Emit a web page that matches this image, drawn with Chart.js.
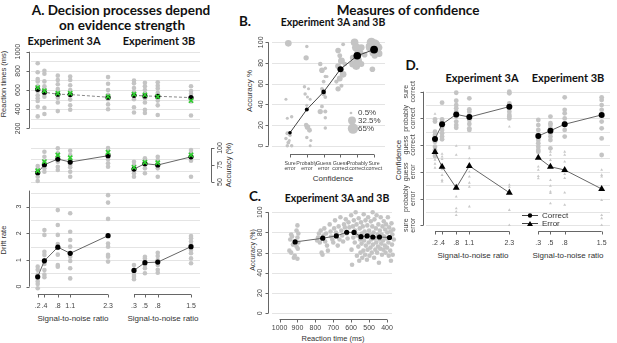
<!DOCTYPE html>
<html>
<head>
<meta charset="utf-8">
<script src="https://cdn.jsdelivr.net/npm/chart.js@4.4.0/dist/chart.umd.min.js"></script>
<style>
  body { margin: 0; background: #fff; }
  #fig { position: relative; width: 617px; height: 343px; overflow: hidden; font-family: "Liberation Sans", Arial, sans-serif; }
  #fig canvas { position: absolute; left: 0; top: 0; }
  .t { position: absolute; white-space: nowrap; transform: translate(-50%, -50%); line-height: 1; color: #333; }
  .h { font-family: Lato, "Open Sans", sans-serif; font-weight: bold; color: #111; }
  .r { transform: translate(-50%, -50%) rotate(-90deg); }
</style>
</head>
<body>
<div id="fig">
  <div class="t h" style="left:121px;top:11px;font-size:13.5px">A. Decision processes depend</div>
  <div class="t h" style="left:122px;top:26px;font-size:13.5px">on evidence strength</div>
  <div class="t h" style="left:64px;top:40px;font-size:11px">Experiment 3A</div>
  <div class="t h" style="left:159px;top:40px;font-size:11px">Experiment 3B</div>
  <div class="t r" style="left:4px;top:84px;font-size:7.5px">Reaction times (ms)</div>
  <div class="t r" style="left:229px;top:165px;font-size:7.5px">Accuracy (%)</div>
  <div class="t r" style="left:4px;top:240px;font-size:7.5px">Drift rate</div>
  <div class="t" style="left:73px;top:319px;font-size:8px">Signal-to-noise ratio</div>
  <div class="t" style="left:163px;top:319px;font-size:8px">Signal-to-noise ratio</div>

  <div class="t h" style="left:408px;top:11px;font-size:13.5px">Measures of confidence</div>
  <div class="t h" style="left:245px;top:22px;font-size:13.5px">B.</div>
  <div class="t h" style="left:333px;top:22px;font-size:10.5px">Experiment 3A and 3B</div>
  <div class="t r" style="left:250px;top:91px;font-size:8px">Accuracy %</div>
  <div class="t" style="left:333px;top:179px;font-size:8px">Confidence</div>

  <div class="t h" style="left:255px;top:197px;font-size:13.5px">C.</div>
  <div class="t h" style="left:337px;top:198px;font-size:10.5px">Experiment 3A and 3B</div>
  <div class="t r" style="left:252px;top:250px;font-size:7px">Accuracy (%)</div>
  <div class="t" style="left:333px;top:339px;font-size:7.5px">Reaction time (ms)</div>

  <div class="t h" style="left:412px;top:66px;font-size:13.5px">D.</div>
  <div class="t h" style="left:482px;top:77px;font-size:11px">Experiment 3A</div>
  <div class="t h" style="left:568px;top:77px;font-size:11px">Experiment 3B</div>
  <div class="t r" style="left:399px;top:160px;font-size:8px">Confidence</div>
  <div class="t" style="left:473px;top:256px;font-size:8px">Signal-to-noise ratio</div>
  <div class="t" style="left:568px;top:256px;font-size:8px">Signal-to-noise ratio</div>
</div>
<script>
const W = 617, H = 343;

// signal-to-noise levels (x positions) and their printed labels
const snr3A = [0.2, 0.4, 0.8, 1.17, 2.3];
const snrLabels3A = [".2", ".4", ".8", "1.1", "2.3"];
const snr3B = [0.3, 0.53, 0.8, 1.5];
const snrLabels3B = [".3", ".5", ".8", "1.5"];

// A. reaction times
const rtMean3A = [607, 577, 556, 553, 525];
const rtFit3A = [625, 593, 566, 566, 531];
const rtMean3B = [545, 538, 535, 521];
const rtFit3B = [556, 549, 531, 489];
const rtSubj3A = [
  [880, 785, 715, 690, 640, 590, 545, 515, 485, 425, 325],
  [800, 770, 690, 640, 610, 560, 530, 415, 350],
  [750, 705, 660, 610, 560, 520, 470, 380],
  [740, 705, 650, 600, 560, 500, 440, 395],
  [735, 665, 600, 550, 505, 450, 400]
];
const rtSubj3B = [
  [700, 670, 620, 580, 540, 505, 420, 365],
  [675, 640, 600, 560, 515, 470, 395, 360],
  [680, 645, 615, 570, 530, 490, 440, 340],
  [640, 590, 560, 505, 480, 335]
];

// A. accuracy
const accMean3A = [63.7, 75.4, 83.8, 79.4, 88.7];
const accFit3A = [66.6, 80, 89.7, 85.7, 93.7];
const accMean3B = [69, 77, 75, 87];
const accFit3B = [71.6, 79, 78.4, 89.7];
const accSubj3A = [
  [73.5, 69, 62.8, 57.8, 51.5],
  [94.6, 87.2, 79.9, 75, 70.1, 65.1],
  [99.5, 92.2, 87.2, 79.9, 72.5, 67.6],
  [96, 89.7, 82.4, 75, 71.6, 65.1, 57.8],
  [100, 96, 83.4, 77.5, 72.5]
];
const accSubj3B = [
  [79.9, 75, 68.6, 62.8, 57.8],
  [84.8, 81.4, 77.5, 70.1, 62.8],
  [87.2, 82.4, 77.5, 70.1, 57.8],
  [97, 93.1, 87.2, 81.4, 57.8]
];

// A. drift rate
const driftMean3A = [0.37, 0.97, 1.48, 1.25, 1.91];
const driftMean3B = [0.61, 0.9, 0.92, 1.5];
const driftSubj3A = [
  [0.75, 0.63, 0.45, 0.3, 0.19, 0.1, -0.06],
  [2.12, 1.94, 1.31, 1.19, 1.0, 0.85, 0.62, 0.45, 0.35],
  [2.87, 2.31, 1.94, 1.6, 1.45, 1.2, 0.81, 0.75],
  [2.75, 2.06, 1.75, 1.5, 1.12, 0.96, 0.69, 0.31],
  [3.43, 3.15, 2.54, 1.62, 1.5, 1.19, 1.12, 0.94]
];
const driftSubj3B = [
  [0.81, 0.63, 0.44, 0.37, 0.28],
  [1.12, 1.06, 0.94, 0.81, 0.69, 0.5],
  [1.27, 1.15, 1.0, 0.81, 0.63, 0.52],
  [1.9, 1.81, 1.69, 1.56, 1.37, 1.25, 1.06, 0.88]
];

// B. accuracy per confidence level
const confTop = ["Sure", "Probably", "Guess", "Guess", "Probably", "Sure"];
const confBottom = ["error", "error", "error", "correct", "correct", "correct"];
const confMeanAcc = [12.5, 35, 52, 74, 87, 93];
const confSubjPos = [0.9, 0.76, 0.84, 1.1, 0.84, 1.0, 0.76, 0.96, 0.84, 1.1, 0.9,
  2.0, 1.96, 1.86, 2.1, 1.9, 2.04, 2.2, 2.0, 2.04, 2.16, 1.96, 2.0, 2.24, 2.2,
  2.8, 2.9, 3.1, 3.1, 3.0, 3.2, 2.9, 3.1, 2.8, 3.1, 3.1, 3.1, 2.9, 3.0,
  4.16, 3.86, 3.96, 4.06, 4.26, 3.86, 4.06, 4.16, 3.96, 4.06, 3.86, 3.76,
  4.84, 4.94, 5.1, 4.74, 5.04, 4.94, 4.74, 5.24, 5.44, 5.24,
  5.84, 6.04, 6.24, 5.74, 6.14, 5.94, 6.04, 5.9, 5.7, 6.3];
const confSubjAcc = [99, 45, 26.5, 28, 12, 10, 7, 5, 0, 0, 3,
  96, 85, 57, 55, 50, 47, 45, 39, 18, 15, 20, 8, 5, 0,
  79, 73, 75, 67, 62, 67, 55, 47, 33, 33, 27, 17, 38, 50,
  98, 92, 87, 82, 79, 77, 74, 69, 65, 58, 55, 62,
  100, 95, 90, 85, 82, 77, 79, 79, 88, 95,
  100, 98, 95, 95, 93, 90, 87, 74, 96, 89];
const confSubjWeight = [20, 1, 1, 2, 3, 2, 2, 1, 2, 2, 3,
  2, 10, 2, 1, 2, 1, 1, 1, 12, 8, 6, 2, 1, 1,
  6, 12, 2, 2, 3, 1, 3, 3, 10, 4, 2, 2, 3, 6,
  3, 12, 8, 22, 6, 14, 10, 20, 14, 4, 10, 5,
  30, 40, 45, 15, 35, 30, 25, 15, 12, 20,
  50, 65, 40, 30, 50, 25, 15, 12, 20, 20];
const weightLegend = [0.5, 32.5, 65];

// C. accuracy by reaction-time bin
const rtBins = [913, 759, 683, 625, 584, 545, 511, 479, 442, 386];
const accBins = [70.6, 74.3, 76.6, 80.2, 80, 75.8, 76.6, 75.5, 75.5, 75];
const rtCloud = [935, 930, 940, 925, 945, 935, 920, 900, 905, 895, 900, 895, 905, 898, 900, 915,
  790, 785, 780, 775, 770, 765, 760, 755, 750, 745, 740, 735, 730, 720, 715, 712, 705, 700, 695, 690,
  685, 680, 675, 670, 665, 660, 655, 650, 645, 640, 635, 630, 625, 620, 615, 610,
  600, 598, 595, 590, 588, 585, 580, 578, 575, 570, 568, 565, 560, 558, 555, 552, 550, 548, 545, 542,
  540, 538, 535, 532, 530, 528, 525, 522, 520, 518, 515, 512, 510, 508, 505, 502, 500, 498, 495, 492,
  490, 488, 485, 482, 480, 478, 475, 472, 470, 468, 465, 462, 460, 458, 455, 452, 450, 448, 445, 442,
  440, 438, 435, 432, 430, 428, 425, 422, 420, 418, 415, 412, 410, 408, 405, 402, 400, 398, 395, 392,
  390, 388, 385, 382, 380, 378, 375, 372, 370, 368, 365, 362];
const accCloud = [78, 76, 73, 68, 62, 60, 55, 87, 82, 79, 75, 70, 66, 64, 54, 57,
  72, 75, 79, 70, 82, 60, 58, 77, 84, 71, 79, 67, 62, 88, 81, 76, 73, 70, 84, 92,
  80, 78, 67, 86, 73, 95, 82, 77, 71, 88, 85, 93, 79, 74, 90, 85,
  97, 63, 48, 86, 75, 92, 70, 82, 100, 88, 57, 77, 66, 94, 52, 84, 73, 60, 90, 69,
  79, 55, 86, 62, 98, 72, 81, 58, 92, 67, 76, 53, 87, 63, 95, 70, 82, 57, 78, 65,
  91, 73, 60, 86, 100, 68, 80, 55, 93, 74, 63, 84, 70, 97, 60, 78, 66, 88, 50, 73,
  82, 64, 95, 69, 78, 58, 86, 72, 63, 91, 76, 67, 83, 60, 88, 74, 65, 80, 95, 70,
  57, 85, 75, 62, 81, 52, 89, 68, 78, 58, 83, 73];

// D. confidence (1 = sure error ... 6 = sure correct)
const confLabels = [["sure", "error"], ["probably", "error"], ["guess", "error"],
  ["guess", "correct"], ["probably", "correct"], ["sure", "correct"]];
const confCorrect3A = [4.23, 4.78, 5.15, 5.05, 5.44];
const confError3A = [3.74, 3.19, 2.40, 3.22, 2.22];
const confCorrect3B = [4.34, 4.54, 4.78, 5.13];
const confError3B = [3.53, 3.19, 3.07, 2.36];
const corrSubj3A = [
  [4.96, 4.88, 4.5, 4.38, 4.13, 3.94, 3.82, 3.69, 3.59],
  [5.59, 4.96, 4.88, 4.75, 4.69, 4.57, 4.44, 4.32, 4.22],
  [5.96, 5.66, 5.5, 5.38, 5.25, 5.07, 4.88, 4.75, 4.65],
  [5.75, 5.34, 5.25, 5.09, 4.94, 4.79, 4.63, 4.57],
  [6.0, 5.94, 5.56, 5.38, 5.25, 5.13, 5.07, 5.0]
];
const corrSubj3B = [
  [4.94, 4.75, 4.57, 4.38, 4.19, 4.07, 3.94, 3.82, 3.75],
  [5.07, 4.82, 4.75, 4.63, 4.44, 4.32, 4.19, 3.88],
  [5.79, 5.32, 5.19, 5.0, 4.82, 4.57, 4.32],
  [5.79, 5.69, 5.5, 5.32, 4.88, 4.63, 4.25, 3.63]
];
const errSubj3A = [
  [5.17, 3.6, 3.45, 3.3, 3.15],
  [3.67, 3.57, 3.47, 3.09, 2.88, 2.69, 2.63],
  [3.97, 3.63, 2.07, 1.63, 1.51, 1.38],
  [3.94, 3.88, 3.5, 3.0, 2.82, 2.59, 2.44, 1.7],
  [4.69, 2.51, 2.44, 2.32, 1.57, 1.0]
];
const errSubj3B = [
  [4.13, 4.0, 3.19, 3.07, 2.84, 2.75],
  [3.75, 3.63, 3.44, 2.69, 2.47, 2.26, 2.2, 1.82],
  [3.75, 3.63, 3.38, 3.07, 2.91, 2.76, 2.22, 1.76],
  [3.07, 2.88, 2.82, 1.94, 1.38, 1.26, 1.0]
];

// ---------- helpers ----------
const pts = (xs, ys) => xs.map((x, i) => ({ x, y: ys[i] }));
const cols = (xs, rows) => xs.flatMap((x, i) => rows[i].map(y => ({ x, y })));
const weightRadius = w => 1 + 0.52 * Math.sqrt(w);

const GREY = "#c4c4c4";
const greyPts = (data, r, style) => ({
  data, showLine: false, clip: false, pointStyle: style || "circle", pointRadius: r || 2.3,
  pointBackgroundColor: GREY, pointBorderColor: GREY, pointBorderWidth: 0
});
const meanPts = (data, r, style) => ({
  data, showLine: true, clip: false, borderColor: "#666", borderWidth: 1,
  pointStyle: style || "circle", pointRadius: r || 2.6,
  pointBackgroundColor: "#000", pointBorderColor: "#000", pointBorderWidth: 0
});
const fitPts = data => ({
  data, showLine: false, clip: false, pointStyle: "crossRot", pointRadius: 3,
  pointBorderColor: "#2fcf2f", pointBorderWidth: 1.6
});

// R-style axis: line from first to last tick, ticks outward, labels rotated on y
function drawAxis(chart, ax) {
  const s = chart.scales[ax.scale], ctx = chart.ctx;
  const p = v => s.getPixelForValue(v);
  const lo = ax.from !== undefined ? ax.from : ax.ticks[0];
  const hi = ax.to !== undefined ? ax.to : ax.ticks[ax.ticks.length - 1];
  const lh = ax.lh || 7;
  ctx.save();
  ctx.strokeStyle = "#666";
  ctx.lineWidth = 1;
  ctx.fillStyle = "#444";
  ctx.font = (ax.size || 7) + 'px "Liberation Sans", Arial, sans-serif';
  ctx.textAlign = "center";
  ctx.textBaseline = "middle";
  ctx.beginPath();
  if (ax.side === "bottom") {
    const y = Math.round(ax.at) + 0.5;
    ctx.moveTo(p(lo), y); ctx.lineTo(p(hi), y);
    ax.ticks.forEach(v => { const x = Math.round(p(v)) + 0.5; ctx.moveTo(x, y); ctx.lineTo(x, y + 3); });
    ctx.stroke();
    ax.ticks.forEach((v, i) => {
      const lab = ax.labels[i], lines = Array.isArray(lab) ? lab : [lab];
      lines.forEach((t, j) => ctx.fillText(t, p(v), ax.at + ax.gap + j * lh));
    });
  } else {
    const dir = ax.side === "left" ? -1 : 1;
    const x = Math.round(ax.at) + 0.5;
    ctx.moveTo(x, p(lo)); ctx.lineTo(x, p(hi));
    ax.ticks.forEach(v => { const y = Math.round(p(v)) + 0.5; ctx.moveTo(x, y); ctx.lineTo(x + dir * 3, y); });
    ctx.stroke();
    ax.ticks.forEach((v, i) => {
      const lab = ax.labels[i], lines = Array.isArray(lab) ? lab : [lab];
      ctx.save();
      ctx.translate(ax.at + dir * ax.gap, p(v));
      ctx.rotate(-Math.PI / 2);
      lines.forEach((t, j) => ctx.fillText(t, 0, (j - (lines.length - 1) / 2) * lh));
      ctx.restore();
    });
  }
  ctx.restore();
}

function axesPlugin(spec) {
  return {
    id: "rAxes",
    beforeDatasetsDraw(chart) {
      const ctx = chart.ctx, a = chart.chartArea, ys = chart.scales.y;
      ctx.save();
      ctx.strokeStyle = "#e4e4e4";
      ctx.lineWidth = 1;
      ctx.beginPath();
      (spec.grid || []).forEach(v => {
        const py = Math.round(ys.getPixelForValue(v)) + 0.5;
        ctx.moveTo(a.left, py);
        ctx.lineTo(spec.gridTo || a.right, py);
      });
      ctx.stroke();
      ctx.restore();
    },
    afterDraw(chart) {
      (spec.axes || []).forEach(ax => drawAxis(chart, ax));
      if (spec.extra) spec.extra(chart);
    }
  };
}

function panel(box, xr, yr, datasets, spec, reverse) {
  const cv = document.createElement("canvas");
  cv.width = W; cv.height = H;
  document.getElementById("fig").appendChild(cv);
  return new Chart(cv, {
    type: "scatter",
    data: { datasets },
    options: {
      responsive: false, animation: false, devicePixelRatio: 1, events: [],
      layout: { autoPadding: false, padding: { left: box[0], top: box[1], right: W - box[2], bottom: H - box[3] } },
      plugins: { legend: { display: false }, tooltip: { enabled: false } },
      scales: {
        x: { type: "linear", display: false, min: xr[0], max: xr[1], reverse: !!reverse },
        y: { type: "linear", display: false, min: yr[0], max: yr[1] }
      }
    },
    plugins: [axesPlugin(spec)]
  });
}

const range = (a, b, s) => { const r = []; for (let v = a; v <= b + 1e-9; v += s) r.push(+v.toFixed(3)); return r; };
const dashed = d => { d.borderDash = [3, 2]; d.borderColor = "#888"; return d; };

// ---------- A: reaction times ----------
const rtTicks = [200, 400, 600, 800, 1000];
panel([31, 45, 116, 130], [0.0, 2.537], [183, 1070],
  [fitPts(pts(snr3A, rtFit3A)), dashed(meanPts(pts(snr3A, rtMean3A))), greyPts(cols(snr3A, rtSubj3A))],
  { grid: range(200, 1000, 100), gridTo: 200,
    axes: [{ scale: "y", side: "left", at: 29, gap: 11, ticks: rtTicks, labels: rtTicks.map(String) }] });
panel([126, 45, 200, 130], [0.132, 1.689], [183, 1070],
  [fitPts(pts(snr3B, rtFit3B)), dashed(meanPts(pts(snr3B, rtMean3B))), greyPts(cols(snr3B, rtSubj3B))], {});

// ---------- A: accuracy ----------
const accTicks = [50, 75, 100];
panel([31, 140, 116, 188], [0.0, 2.537], [41.2, 111.8],
  [fitPts(pts(snr3A, accFit3A)), meanPts(pts(snr3A, accMean3A)), greyPts(cols(snr3A, accSubj3A))],
  { grid: [50, 66.7, 83.3, 100], gridTo: 200 });
panel([126, 140, 200, 188], [0.132, 1.689], [41.2, 111.8],
  [fitPts(pts(snr3B, accFit3B)), meanPts(pts(snr3B, accMean3B)), greyPts(cols(snr3B, accSubj3B))],
  { axes: [{ scale: "y", side: "right", at: 211, gap: 9, ticks: accTicks, labels: accTicks.map(String) }] });

// ---------- A: drift rate ----------
const driftTicks = [0, 1, 2, 3];
panel([31, 185, 116, 292], [0.0, 2.537], [-0.2, 3.81],
  [meanPts(pts(snr3A, driftMean3A)), greyPts(cols(snr3A, driftSubj3A))],
  { grid: range(0, 3.5, 0.5), gridTo: 200,
    axes: [{ scale: "y", side: "left", at: 29, gap: 10, ticks: driftTicks, labels: driftTicks.map(String), to: 3.6 },
           { scale: "x", side: "bottom", at: 294, gap: 12, ticks: snr3A, labels: snrLabels3A }] });
panel([126, 185, 200, 292], [0.132, 1.689], [-0.2, 3.81],
  [meanPts(pts(snr3B, driftMean3B)), greyPts(cols(snr3B, driftSubj3B))],
  { axes: [{ scale: "x", side: "bottom", at: 294, gap: 12, ticks: snr3B, labels: snrLabels3B }] });

// ---------- B ----------
const pctTicks = [0, 20, 40, 60, 80, 100];
const confPos = [1, 2, 3, 4, 5, 6];
const bMean = meanPts(pts(confPos, confMeanAcc));
bMean.pointRadius = [1.8, 2, 2.3, 3, 3.8, 3.9];
bMean.borderColor = "#444";
const bGrey = greyPts(pts(confSubjPos, confSubjAcc));
bGrey.pointRadius = confSubjWeight.map(weightRadius);
panel([272, 36, 385, 150], [-0.07, 6.65], [-4.2, 106.1], [bMean, bGrey], {
  grid: pctTicks,
  axes: [{ scale: "y", side: "left", at: 268, gap: 7, ticks: pctTicks, labels: pctTicks.map(String) },
         { scale: "x", side: "bottom", at: 154, gap: 9.5, lh: 5.5, size: 5.3, ticks: confPos,
           labels: confPos.map((c, i) => [confTop[i], confBottom[i]]) }],
  extra(chart) {
    const ctx = chart.ctx;
    ctx.save();
    ctx.font = '8px "Liberation Sans", Arial, sans-serif';
    ctx.textBaseline = "middle";
    [113, 120.5, 128.5].forEach((y, i) => {
      ctx.fillStyle = GREY;
      ctx.beginPath();
      ctx.arc(351 + i, y, weightRadius(weightLegend[i]), 0, Math.PI * 2);
      ctx.fill();
      ctx.fillStyle = "#444";
      ctx.fillText(weightLegend[i] + "%", 358, y);
    });
    ctx.restore();
  }
});

// ---------- C ----------
const rtAxisTicks = [1000, 900, 800, 700, 600, 500, 400];
panel([272, 206, 392, 316], [372, 1042], [-2.7, 106.2],
  [meanPts(pts(rtBins, accBins)), greyPts(pts(rtCloud, accCloud))], {
  grid: pctTicks,
  axes: [{ scale: "y", side: "left", at: 268, gap: 8, ticks: pctTicks, labels: pctTicks.map(String) },
         { scale: "x", side: "bottom", at: 319, gap: 9, ticks: rtAxisTicks, labels: rtAxisTicks.map(String) }]
}, true);

// ---------- D ----------
const levels = [1, 2, 3, 4, 5, 6];
const errGrey = (data) => { const d = greyPts(data, 1.7, "triangle"); d.pointBackgroundColor = "#c9c9c9"; return d; };
panel([426, 85, 515, 229], [-0.054, 2.46], [0.86, 6.25],
  [meanPts(pts(snr3A, confCorrect3A), 3), meanPts(pts(snr3A, confError3A), 4, "triangle"),
   greyPts(cols(snr3A, corrSubj3A), 2.4), errGrey(cols(snr3A, errSubj3A))], {
  grid: range(1, 6, 0.5), gridTo: 610,
  axes: [{ scale: "y", side: "left", at: 423, gap: 13.5, ticks: levels, labels: confLabels },
         { scale: "x", side: "bottom", at: 231, gap: 12, ticks: snr3A, labels: snrLabels3A }]
});
panel([530, 85, 610, 229], [0.143, 1.658], [0.86, 6.25],
  [meanPts(pts(snr3B, confCorrect3B), 3), meanPts(pts(snr3B, confError3B), 4, "triangle"),
   greyPts(cols(snr3B, corrSubj3B), 2.4), errGrey(cols(snr3B, errSubj3B))], {
  axes: [{ scale: "x", side: "bottom", at: 231, gap: 12, ticks: snr3B, labels: snrLabels3B }],
  extra(chart) {
    const ctx = chart.ctx;
    ctx.save();
    ctx.strokeStyle = "#444";
    ctx.fillStyle = "#000";
    ctx.lineWidth = 1;
    ctx.beginPath();
    ctx.moveTo(522, 215.5); ctx.lineTo(538, 215.5);
    ctx.moveTo(522, 223.5); ctx.lineTo(538, 223.5);
    ctx.stroke();
    ctx.beginPath(); ctx.arc(530, 215.5, 2.2, 0, Math.PI * 2); ctx.fill();
    ctx.beginPath(); ctx.moveTo(530, 221); ctx.lineTo(533, 226); ctx.lineTo(527, 226); ctx.closePath(); ctx.fill();
    ctx.font = '8px "Liberation Sans", Arial, sans-serif';
    ctx.fillStyle = "#333";
    ctx.textBaseline = "middle";
    ctx.fillText("Correct", 542, 215.5);
    ctx.fillText("Error", 542, 223.5);
    ctx.restore();
  }
});
</script>
</body>
</html>
